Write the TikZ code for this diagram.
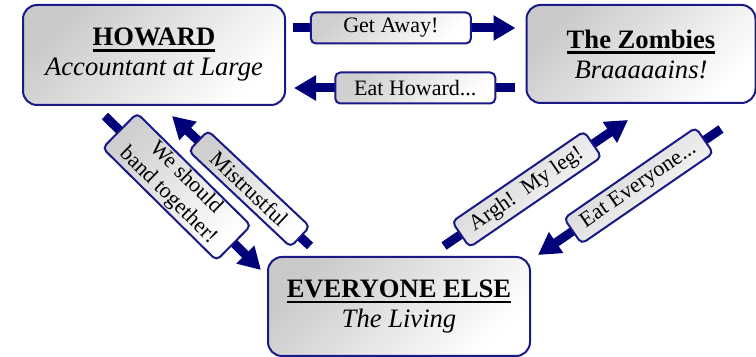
\documentclass[tikz,border=0pt]{standalone}
\usepackage{fontspec}
\setmainfont{Liberation Serif}
\usetikzlibrary{arrows.meta,calc}

\definecolor{navyline}{RGB}{0,0,120}
\definecolor{rimblue}{RGB}{25,25,135}

\newsavebox{\headbox}
\newcommand{\boxhead}[1]{\sbox{\headbox}{\textbf{#1}}%
  \leavevmode\rlap{\rule[-3pt]{\wd\headbox}{1.4pt}}\usebox{\headbox}}

\tikzset{
  party/.style={draw=rimblue, line width=1pt, rounded corners=7pt,
    top color=gray!42, bottom color=white, shading angle=45,
    align=center, inner sep=0pt, font=\fontsize{13.3}{15}\selectfont},
  tag/.style={draw=rimblue, line width=1pt, rounded corners=2.5pt,
    top color=gray!38, bottom color=white, shading angle=45,
    align=center, inner xsep=2pt, inner ysep=1pt,
    minimum width=80pt, minimum height=15.5pt,
    font=\fontsize{11}{12.5}\selectfont},
  link/.style={draw=navyline, line width=4.5pt,
    -{Triangle[length=11pt,width=12pt]}},
}

\begin{document}
\begin{tikzpicture}[x=0.5pt,y=-0.5pt]
  \useasboundingbox (0,0) rectangle (756,357);

  % the three parties
  \node[party, minimum width=131pt, minimum height=50pt] (howard) at (154,55)
    {\boxhead{HOWARD}\\\textit{Accountant at Large}};
  \node[party, minimum width=114.5pt, minimum height=49pt] (zombies) at (641,54)
    {\boxhead{The Zombies}\\\textit{Braaaaains!}};
  \node[party, minimum width=131pt, minimum height=49.5pt] (everyone) at (399,306.5)
    {\boxhead{EVERYONE ELSE}\\\textit{The Living}};

  % Howard <-> Zombies
  \draw[link] ($(howard.east)+(7,-27)$) -- ($(zombies.west)+(-10,-26)$)
    node[tag, pos=0.44] {Get Away!};
  \draw[link] ($(zombies.west)+(-11,34)$) -- ($(howard.east)+(8,33)$)
    node[tag, pos=0.45] {Eat Howard...};

  % Howard <-> Everyone
  \draw[link] ($(howard.south)+(-49,10)$) -- ($(everyone.north west)+(-6,14)$)
    node[tag, pos=0.46, sloped, minimum height=22pt] {We should\\band together!};
  \draw[link] ($(everyone.north west)+(43,-10)$) -- ($(howard.south)+(18,10)$)
    node[tag, pos=0.44, sloped, minimum width=70pt, minimum height=14pt] {Mistrustful};

  % Everyone <-> Zombies
  \draw[link] ($(everyone.north east)+(-87,-10)$) -- ($(zombies.south)+(-13,16)$)
    node[tag, pos=0.45, sloped] {Argh!\ \ My leg!};
  \draw[link] ($(zombies.south)+(80,25)$) -- ($(everyone.north east)+(7,-1)$)
    node[tag, pos=0.45, sloped] {Eat Everyone...};
\end{tikzpicture}
\end{document}
